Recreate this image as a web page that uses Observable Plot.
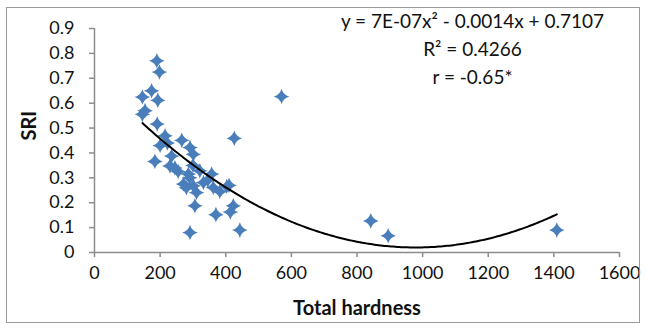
<!DOCTYPE html>
<html>
<head>
<meta charset="utf-8">
<script src="https://cdn.jsdelivr.net/npm/d3@7"></script>
<script src="https://cdn.jsdelivr.net/npm/@observablehq/plot@0.6"></script>
<style>
  body { margin: 0; background: #fff; }
  #chart { position: relative; width: 645px; height: 328px; }
</style>
</head>
<body>
<div id="chart"></div>
<script>
// Total hardness (x) and SRI (y)
const hardness = [190, 198, 174, 146, 193, 154, 146, 191, 570, 426,
  215, 266, 291, 200, 235, 301, 184, 230, 255, 286,
  321, 357, 271, 301, 332, 362, 403, 311, 382, 222,
  245, 290, 280, 345, 410, 300,
  306, 370, 423, 414, 291, 443,
  842, 895, 1409];
const sri = [0.77, 0.725, 0.65, 0.625, 0.612, 0.57, 0.555, 0.516, 0.627, 0.459,
  0.469, 0.451, 0.422, 0.43, 0.388, 0.395, 0.366, 0.348, 0.325, 0.315,
  0.328, 0.315, 0.275, 0.268, 0.281, 0.261, 0.265, 0.241, 0.245, 0.44,
  0.34, 0.30, 0.26, 0.29, 0.27, 0.35,
  0.188, 0.152, 0.188, 0.163, 0.08, 0.09,
  0.127, 0.067, 0.09];

// Polynomial trendline coefficients (a x^2 + b x + c)
const fitCoef = [7.2e-7, -0.00141, 0.7105];

const xTicks = [0, 200, 400, 600, 800, 1000, 1200, 1400, 1600];
const yTicks = [0, 0.1, 0.2, 0.3, 0.4, 0.5, 0.6, 0.7, 0.8, 0.9];
const annotationLines = ["y = 7E-07x\u00b2 - 0.0014x + 0.7107", "R\u00b2 = 0.4266", "r = -0.65*"];

const points = hardness.map((h, i) => ({x: h, y: sri[i]}));
const [x0, x1] = d3.extent(hardness);
const curve = d3.range(0, 201).map(i => {
  const x = x0 + (x1 - x0) * i / 200;
  return {x, y: fitCoef[0] * x * x + fitCoef[1] * x + fitCoef[2]};
});

const star4 = {
  draw(ctx, size) {
    const r = Math.sqrt(size / Math.PI);
    const k = r * 0.22;
    ctx.moveTo(0, -r);
    ctx.quadraticCurveTo(k, -k, r, 0);
    ctx.quadraticCurveTo(k, k, 0, r);
    ctx.quadraticCurveTo(-k, k, -r, 0);
    ctx.quadraticCurveTo(-k, -k, 0, -r);
    ctx.closePath();
  }
};

const axisColor = "#8c8c8c";
const font = "Lato, 'Open Sans', sans-serif";

const plot = Plot.plot({
  width: 645,
  height: 328,
  marginLeft: 94,
  marginRight: 26,
  marginTop: 28,
  marginBottom: 76,
  style: {fontFamily: font, fontSize: "18px", color: "#222", background: "#fff", overflow: "visible"},
  x: {domain: [0, 1600], ticks: xTicks, tickFormat: d => String(d)},
  y: {domain: [0, 0.9], ticks: yTicks, tickFormat: d => d === 0 ? "0" : d.toFixed(1)},
  marks: [
    Plot.ruleY([0], {stroke: axisColor, strokeWidth: 1.5}),
    Plot.ruleX([0], {stroke: axisColor, strokeWidth: 1.5}),
    Plot.axisX({ticks: xTicks, tickFormat: d => String(d), tickSize: 5, tickPadding: 9, stroke: axisColor, strokeWidth: 1.5, fontSize: 18, fill: "#111", label: null}),
    Plot.axisY({ticks: yTicks, tickFormat: d => d === 0 ? "0" : d.toFixed(1), tickSize: 5, tickPadding: 15, stroke: axisColor, strokeWidth: 1.5, fontSize: 18, fill: "#111", label: null}),
    Plot.dot(points, {x: "x", y: "y", symbol: star4, r: 7.8, fill: "#4a7ebb", stroke: "none"}),
    Plot.line(curve, {x: "x", y: "y", stroke: "#000", strokeWidth: 2}),
    Plot.text(annotationLines, {
      x: () => 1152,
      y: (d, i) => 0.928 - i * 0.113,
      text: d => d,
      fontSize: 19,
      fill: "#111",
      textAnchor: "middle",
      clip: false
    }),
    Plot.text(["Total hardness"], {frameAnchor: "bottom", dy: 62, text: d => d, fontWeight: "bold", fontSize: 20, fill: "#111"}),
    Plot.text(["SRI"], {frameAnchor: "left", dx: -65, text: d => d, rotate: -90, fontWeight: "bold", fontSize: 20, fill: "#111"})
  ]
});

document.getElementById("chart").appendChild(plot);
d3.select(plot).append("rect")
  .attr("x", 6.5).attr("y", 7.5).attr("width", 633).attr("height", 315)
  .attr("fill", "none").attr("stroke", "#9a9a9a").attr("stroke-width", 1);
</script>
</body>
</html>
